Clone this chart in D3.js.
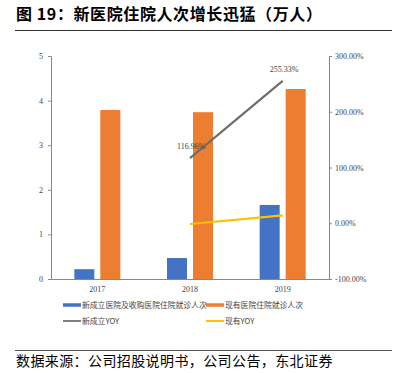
<!DOCTYPE html>
<html>
<head>
<meta charset="utf-8">
<script src="https://cdn.jsdelivr.net/npm/d3@7"></script>
<style>
  body { margin: 0; background: #fff; }
  svg { display: block; }
</style>
</head>
<body>
<div id="chart"></div>
<script>
const years = ["2017", "2018", "2019"];
const newVisits = [0.22, 0.47, 1.66];
const existingVisits = [3.79, 3.74, 4.26];
const newYoy = [null, 116.96, 255.33];
const existingYoy = [null, -1.3, 14.0];
const leftTicks = [0, 1, 2, 3, 4, 5];
const rightTicks = [-100, 0, 100, 200, 300];
const legendNames = ["新成立医院及收购医院住院就诊人次", "现有医院住院就诊人次", "新成立YOY", "现有YOY"];

function init() {
    const width = 400;
    const height = 373;
    const left = 51, right = 329, top = 56, bottom = 279;
    const numFont = "'Liberation Serif', 'DejaVu Serif', serif";
    const cjkFont = "'Noto Sans CJK SC', sans-serif";

    const svg = d3.select("#chart")
        .append("svg")
        .attr("width", width)
        .attr("height", height);

    // title and rules
    svg.append("text")
        .attr("x", 16).attr("y", 20)
        .style("font-family", cjkFont)
        .style("font-weight", "bold")
        .style("font-size", "16px")
        .style("letter-spacing", "0.6px")
        .text("图 19：新医院住院人次增长迅猛（万人）");
    svg.append("line")
        .attr("x1", 15).attr("x2", 392).attr("y1", 30.5).attr("y2", 30.5)
        .attr("stroke", "#333").attr("stroke-width", 1);
    svg.append("line")
        .attr("x1", 15).attr("x2", 392).attr("y1", 350.5).attr("y2", 350.5)
        .attr("stroke", "#555").attr("stroke-width", 1);
    svg.append("text")
        .attr("x", 16).attr("y", 366)
        .style("font-family", cjkFont)
        .style("font-size", "14px")
        .style("letter-spacing", "0.4px")
        .text("数据来源：公司招股说明书，公司公告，东北证券");

    const x = d3.scaleBand().domain(years).range([left, right]);
    const yL = d3.scaleLinear().domain([0, 5]).range([bottom, top]);
    const yR = d3.scaleLinear().domain([-100, 300]).range([bottom, top]);

    const barW = 20, gap = 6;

    const g = svg.append("g");

    // bars
    g.selectAll(".bNew").data(years).enter().append("rect")
        .attr("x", d => x(d) + x.bandwidth() / 2 - gap / 2 - barW)
        .attr("y", (d, i) => yL(newVisits[i]))
        .attr("width", barW)
        .attr("height", (d, i) => yL(0) - yL(newVisits[i]))
        .attr("fill", "#4472c4");
    g.selectAll(".bOld").data(years).enter().append("rect")
        .attr("x", d => x(d) + x.bandwidth() / 2 + gap / 2)
        .attr("y", (d, i) => yL(existingVisits[i]))
        .attr("width", barW)
        .attr("height", (d, i) => yL(0) - yL(existingVisits[i]))
        .attr("fill", "#ed7d31");

    // axes
    const axL = g.append("g").attr("transform", `translate(${left},0)`)
        .call(d3.axisLeft(yL).tickValues(leftTicks).tickSize(3).tickFormat(d3.format("d")));
    const axR = g.append("g").attr("transform", `translate(${right},0)`)
        .call(d3.axisRight(yR).tickValues(rightTicks).tickSize(3).tickFormat(d => d.toFixed(2) + "%"));
    const axB = g.append("g").attr("transform", `translate(0,${bottom})`)
        .call(d3.axisBottom(x).tickSize(0));
    [axL, axR, axB].forEach(a => {
        a.select(".domain").attr("stroke", "#888");
        a.selectAll("line").attr("stroke", "#888");
        a.selectAll("text")
            .style("font-family", numFont)
            .style("font-size", "8px")
            .attr("fill", "#444");
    });
    axL.selectAll("text").attr("x", -8);
    axR.selectAll("text").attr("x", 6);
    axB.selectAll("text").attr("dy", "0.71em").attr("y", 7);

    // yoy lines
    const cx = d => x(d) + x.bandwidth() / 2;
    const lineNew = d3.line()
        .defined((d, i) => newYoy[i] !== null)
        .x(d => cx(d))
        .y((d, i) => yR(newYoy[i]));
    const lineOld = d3.line()
        .defined((d, i) => existingYoy[i] !== null)
        .x(d => cx(d))
        .y((d, i) => yR(existingYoy[i]));
    g.append("path").datum(years).attr("d", lineNew)
        .attr("fill", "none").attr("stroke", "#6e6e6e").attr("stroke-width", 2.2);
    g.append("path").datum(years).attr("d", lineOld)
        .attr("fill", "none").attr("stroke", "#ffc000").attr("stroke-width", 2.2);

    // data labels
    [1, 2].forEach(i => {
        g.append("text")
            .attr("x", cx(years[i]) - 13).attr("y", yR(newYoy[i]) - 9)
            .attr("text-anchor", "start")
            .style("font-family", numFont).style("font-size", "8px").attr("fill", "#444")
            .text(newYoy[i].toFixed(2) + "%");
    });

    // legend
    const legendColors = ["#4472c4", "#ed7d31", "#7f7f7f", "#ffc000"];
    const legendPos = [[63, 305], [206, 305], [63, 321], [206, 321]];
    legendNames.forEach((name, i) => {
        const [lx, ly] = legendPos[i];
        svg.append("line")
            .attr("x1", lx).attr("x2", lx + 18).attr("y1", ly).attr("y2", ly)
            .attr("stroke", legendColors[i]).attr("stroke-width", i < 2 ? 3.5 : 2);
        svg.append("text")
            .attr("x", lx + 19).attr("y", ly + 3)
            .style("font-family", cjkFont).style("font-size", "7.8px").attr("fill", "#444")
            .text(name);
    });
}

window.onload = init;
</script>
</body>
</html>
